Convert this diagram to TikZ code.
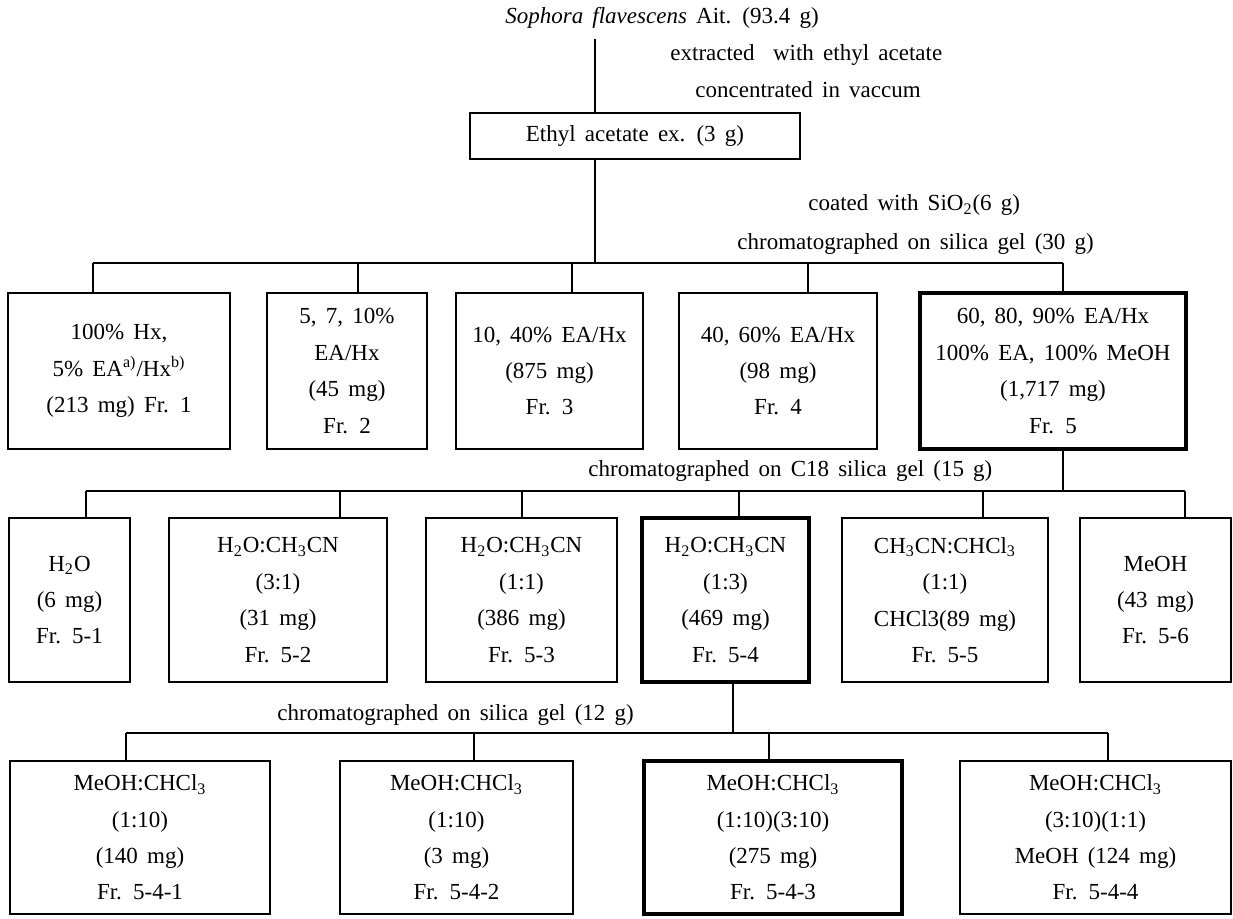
\documentclass[tikz,border=0pt]{standalone}
\usepackage{fontspec}
\setmainfont{Liberation Serif}[WordSpace={1.6,1,1}]
\newcommand\fsz{\fontsize{11.5}{18.2}\selectfont}
\begin{document}
\begin{tikzpicture}[x=0.5pt,y=-0.5pt,
  box/.style={draw, line width=0.85pt, rectangle, align=center, inner sep=0pt, font=\fsz},
  boxthick/.style={box, line width=1.9pt},
  lbl/.style={font=\fsz, inner sep=0pt, anchor=west},
  conn/.style={line width=0.8pt}]
\useasboundingbox (0,0) rectangle (1233,918);
% title and first step
\node[font=\fsz, inner sep=0pt] (title) at (662,18) {\textit{Sophora flavescens} Ait. (93.4 g)};
\node[lbl] (t1) at (670,55) {extracted\hspace{0.4em} with ethyl acetate};
\node[lbl] (t2) at (695,90) {concentrated in vaccum};
\node[box, minimum width=165pt, minimum height=23pt] (ethyl) at (635,136) {Ethyl acetate ex. (3 g)};
\node[lbl] (t3) at (808,205) {coated with SiO\textsubscript{2}(6 g)};
\node[lbl] (t4) at (737,244) {chromatographed on silica gel (30 g)};
% row 2
\node[box, minimum width=111pt, minimum height=78pt] (b21) at (119,371) {100\% Hx,\\5\% EA\textsuperscript{a)}/Hx\textsuperscript{b)}\\(213 mg) Fr. 1};
\node[box, minimum width=80pt, minimum height=78pt] (b22) at (347,371) {5, 7, 10\%\\EA/Hx\\(45 mg)\\Fr. 2};
\node[box, minimum width=93.5pt, minimum height=78pt] (b23) at (549.5,371) {10, 40\% EA/Hx\\(875 mg)\\Fr. 3};
\node[box, minimum width=99pt, minimum height=78pt] (b24) at (778,371) {40, 60\% EA/Hx\\(98 mg)\\Fr. 4};
\node[boxthick, minimum width=133pt, minimum height=78pt] (b25) at (1053,371) {60, 80, 90\% EA/Hx\\100\% EA, 100\% MeOH\\(1,717 mg)\\Fr. 5};
\node[lbl] (t5) at (588,471) {chromatographed on C18 silica gel (15 g)};
% row 3
\node[box, minimum width=60.5pt, minimum height=82pt] (b31) at (69.5,600) {H\textsubscript{2}O\\(6 mg)\\Fr. 5-1};
\node[box, minimum width=109pt, minimum height=82pt] (b32) at (278,600) {H\textsubscript{2}O:CH\textsubscript{3}CN\\(3:1)\\(31 mg)\\Fr. 5-2};
\node[box, minimum width=95.5pt, minimum height=82pt] (b33) at (521.5,600) {H\textsubscript{2}O:CH\textsubscript{3}CN\\(1:1)\\(386 mg)\\Fr. 5-3};
\node[boxthick, minimum width=83.5pt, minimum height=82pt] (b34) at (725.5,600) {H\textsubscript{2}O:CH\textsubscript{3}CN\\(1:3)\\(469 mg)\\Fr. 5-4};
\node[box, minimum width=103pt, minimum height=82pt] (b35) at (945,600) {CH\textsubscript{3}CN:CHCl\textsubscript{3}\\(1:1)\\CHCl3(89 mg)\\Fr. 5-5};
\node[box, minimum width=75.5pt, minimum height=82pt] (b36) at (1155.5,600) {MeOH\\(43 mg)\\Fr. 5-6};
\node[lbl] (t6) at (277,715) {chromatographed on silica gel (12 g)};
% row 4
\node[box, minimum width=130pt, minimum height=76.5pt] (b41) at (140,837.5) {MeOH:CHCl\textsubscript{3}\\(1:10)\\(140 mg)\\Fr. 5-4-1};
\node[box, minimum width=116.5pt, minimum height=76.5pt] (b42) at (456.5,837.5) {MeOH:CHCl\textsubscript{3}\\(1:10)\\(3 mg)\\Fr. 5-4-2};
\node[boxthick, minimum width=129pt, minimum height=76.5pt] (b43) at (773,837.5) {MeOH:CHCl\textsubscript{3}\\(1:10)(3:10)\\(275 mg)\\Fr. 5-4-3};
\node[box, minimum width=135.5pt, minimum height=76.5pt] (b44) at (1095.5,837.5) {MeOH:CHCl\textsubscript{3}\\(3:10)(1:1)\\MeOH (124 mg)\\Fr. 5-4-4};
% connector coordinates
\coordinate (m0) at (595,39);
\coordinate (j1a) at (93,263);  \coordinate (j1b) at (358,263); \coordinate (j1c) at (572,263);
\coordinate (j1d) at (808,263); \coordinate (j1e) at (1063,263);
\coordinate (j2a) at (86,491);  \coordinate (j2b) at (340,491); \coordinate (j2c) at (522,491);
\coordinate (j2d) at (739,491); \coordinate (j2e) at (983,491); \coordinate (j2f) at (1185,491);
\coordinate (j3a) at (126,733); \coordinate (j3b) at (474,733); \coordinate (j3c) at (769,733);
\coordinate (j3d) at (1108,733);
% connectors
\draw[conn] (m0) -- (m0 |- ethyl.north);
\draw[conn] (m0 |- ethyl.south) -- (m0 |- j1a);
\draw[conn] (j1a) -- (j1e);
\draw[conn] (j1a) -- (j1a |- b21.north);
\draw[conn] (j1b) -- (j1b |- b22.north);
\draw[conn] (j1c) -- (j1c |- b23.north);
\draw[conn] (j1d) -- (j1d |- b24.north);
\draw[conn] (j1e) -- (j1e |- b25.north);
\draw[conn] (j1e |- b25.south) -- (j1e |- j2a);
\draw[conn] (j2a) -- (j2f);
\draw[conn] (j2a) -- (j2a |- b31.north);
\draw[conn] (j2b) -- (j2b |- b32.north);
\draw[conn] (j2c) -- (j2c |- b33.north);
\draw[conn] (j2d) -- (j2d |- b34.north);
\draw[conn] (j2e) -- (j2e |- b35.north);
\draw[conn] (j2f) -- (j2f |- b36.north);
\coordinate (m3) at (733,733);
\draw[conn] (m3 |- b34.south) -- (m3);
\draw[conn] (j3a) -- (j3d);
\draw[conn] (j3a) -- (j3a |- b41.north);
\draw[conn] (j3b) -- (j3b |- b42.north);
\draw[conn] (j3c) -- (j3c |- b43.north);
\draw[conn] (j3d) -- (j3d |- b44.north);
\end{tikzpicture}
\end{document}
